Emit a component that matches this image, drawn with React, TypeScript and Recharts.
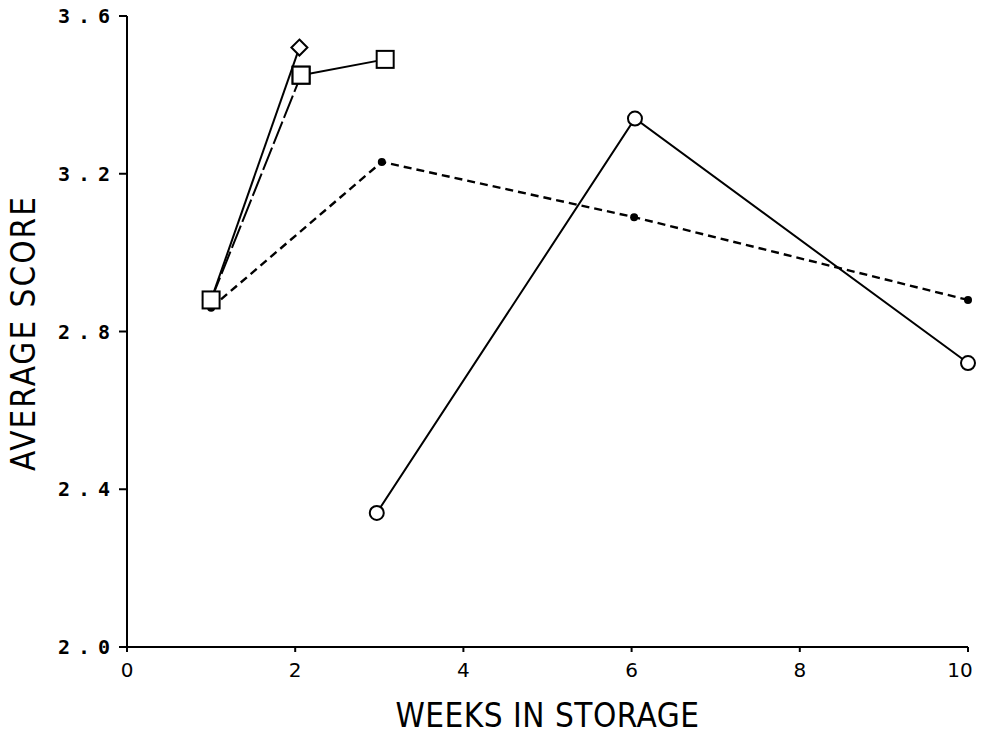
import { Label, Line, LineChart, XAxis, YAxis } from "recharts";

const weekTicks = [0, 2, 4, 6, 8, 10];
const scoreTicks = [2.0, 2.4, 2.8, 3.2, 3.6];

const diamondWeeks = [1, 2.05];
const diamondScores = [2.88, 3.52];

const squareWeeks = [1, 2.07, 3.07];
const squareScores = [2.88, 3.45, 3.49];

const dotWeeks = [1, 3.03, 6.03, 10];
const dotScores = [2.86, 3.23, 3.09, 2.88];

const circleWeeks = [2.97, 6.04, 10];
const circleScores = [2.34, 3.34, 2.72];

function zip(weeks: number[], scores: number[]) {
  return weeks.map((week, i) => ({ week, score: scores[i] }));
}

const diamondData = zip(diamondWeeks, diamondScores);
const squareData = zip(squareWeeks, squareScores);
const dotData = zip(dotWeeks, dotScores);
const circleData = zip(circleWeeks, circleScores);

const ink = "#000";

function Diamond(props: any) {
  const { cx, cy, index } = props;
  const s = 8;
  return (
    <polygon
      key={`d-${index}`}
      points={`${cx},${cy - s} ${cx + s},${cy} ${cx},${cy + s} ${cx - s},${cy}`}
      fill="#fff"
      stroke={ink}
      strokeWidth={2}
    />
  );
}

function Square(props: any) {
  const { cx, cy, index } = props;
  const s = 8.5;
  return <rect key={`s-${index}`} x={cx - s} y={cy - s} width={s * 2} height={s * 2} fill="#fff" stroke={ink} strokeWidth={2} />;
}

function Circle(props: any) {
  const { cx, cy, index } = props;
  return <circle key={`c-${index}`} cx={cx} cy={cy} r={7} fill="#fff" stroke={ink} strokeWidth={2} />;
}

function Dot(props: any) {
  const { cx, cy, index } = props;
  return <circle key={`f-${index}`} cx={cx} cy={cy} r={4} fill={ink} />;
}

function ScoreTick(props: any) {
  const { x, y, payload } = props;
  return (
    <text
      x={x + 1}
      y={y}
      dy={7}
      textAnchor="end"
      fontFamily="'DejaVu Sans Mono', monospace"
      fontWeight="bold"
      fontSize={20}
      letterSpacing={8}
      fill={ink}
    >
      {Number(payload.value).toFixed(1)}
    </text>
  );
}

function WeekTick(props: any) {
  const { x, y, payload } = props;
  // the last label sits a little left of its tick, as in the original
  const shift = payload.value === 10 ? -8 : 0;
  return (
    <text x={x + shift} y={y} dy={15} textAnchor="middle" fontFamily="'DejaVu Sans', sans-serif" fontSize={20} fill={ink}>
      {payload.value}
    </text>
  );
}

const labelFont = { fontFamily: "'DejaVu Sans Condensed', 'DejaVu Sans', sans-serif", fontStretch: "condensed" as const };

export default function App() {
  return (
    <div style={{ margin: -8, width: 984, height: 736, overflow: "hidden" }}>
      <LineChart width={984} height={736} margin={{ top: 16, right: 16, bottom: 0, left: 0 }}>
        <XAxis
          type="number"
          dataKey="week"
          domain={[0, 10]}
          ticks={weekTicks}
          height={89}
          tickSize={5}
          tickMargin={10}
          tick={<WeekTick />}
          axisLine={{ stroke: ink, strokeWidth: 2 }}
          tickLine={{ stroke: ink, strokeWidth: 2 }}
        >
          <Label
            content={(props: any) => {
              const vb = props.viewBox;
              return (
                <text
                  x={vb.x + vb.width / 2}
                  y={vb.y + vb.height - 9}
                  textAnchor="middle"
                  fontSize={33}
                  letterSpacing={0.5}
                  fill={ink}
                  style={labelFont}
                >
                  WEEKS IN STORAGE
                </text>
              );
            }}
          />
        </XAxis>
        <YAxis
          type="number"
          dataKey="score"
          domain={[2.0, 3.6]}
          ticks={scoreTicks}
          width={127}
          tickSize={8}
          tickMargin={2}
          tick={<ScoreTick />}
          axisLine={{ stroke: ink, strokeWidth: 2 }}
          tickLine={{ stroke: ink, strokeWidth: 2 }}
        >
          <Label
            content={() => {
              const cx = 35;
              const cy = 333;
              return (
                <text
                  x={cx}
                  y={cy}
                  transform={`rotate(-90 ${cx} ${cy})`}
                  textAnchor="middle"
                  fontSize={33}
                  letterSpacing={2}
                  fill={ink}
                  style={labelFont}
                >
                  AVERAGE SCORE
                </text>
              );
            }}
          />
        </YAxis>

        <Line data={dotData} dataKey="score" type="linear" stroke={ink} strokeWidth={2.4} strokeDasharray="8 5" dot={<Dot />} activeDot={false} isAnimationActive={false} />
        <Line data={diamondData} dataKey="score" type="linear" stroke={ink} strokeWidth={2} dot={<Diamond />} activeDot={false} isAnimationActive={false} />
        <Line data={squareData.slice(0, 2)} dataKey="score" type="linear" stroke={ink} strokeWidth={2} strokeDasharray="24 4" dot={<Square />} activeDot={false} isAnimationActive={false} />
        <Line data={squareData.slice(1)} dataKey="score" type="linear" stroke={ink} strokeWidth={2} dot={<Square />} activeDot={false} isAnimationActive={false} />
        <Line data={circleData} dataKey="score" type="linear" stroke={ink} strokeWidth={2} dot={<Circle />} activeDot={false} isAnimationActive={false} />
      </LineChart>
    </div>
  );
}
